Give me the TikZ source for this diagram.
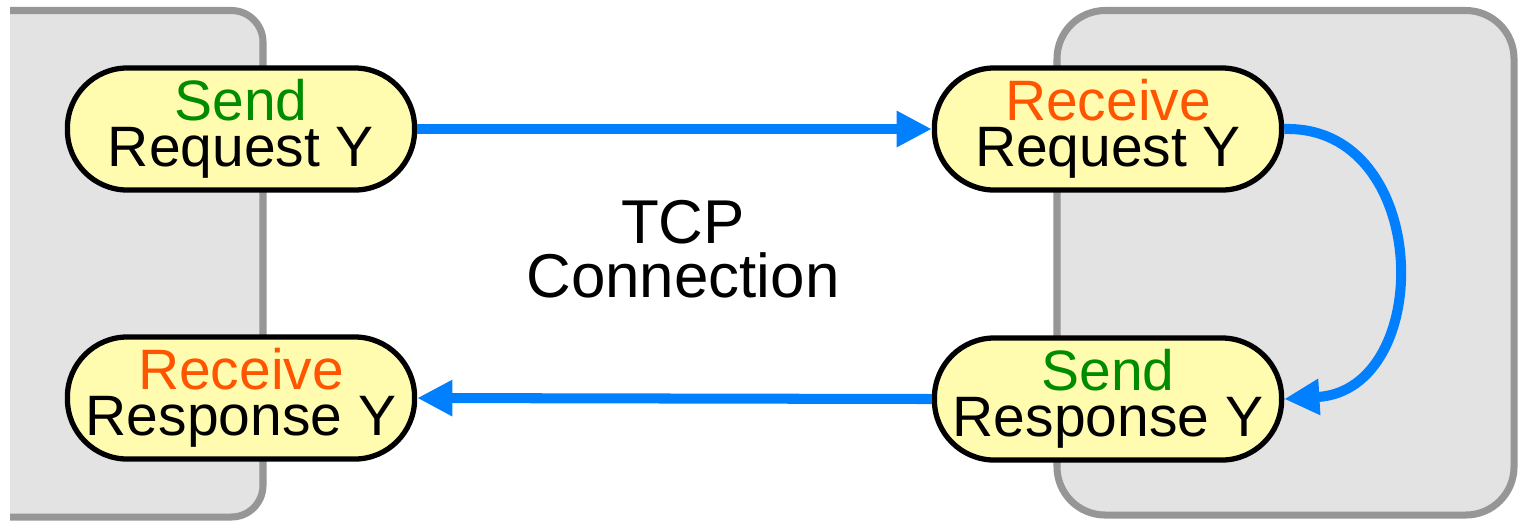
\documentclass[tikz,border=0pt]{standalone}
\usepackage{fontspec}
\setmainfont{Liberation Sans}
\usetikzlibrary{arrows.meta}
\definecolor{pillfill}{RGB}{255,251,175}
\definecolor{panelfill}{RGB}{227,227,227}
\definecolor{panelline}{RGB}{150,150,150}
\definecolor{flowblue}{RGB}{0,128,255}
\definecolor{sendgreen}{RGB}{0,140,0}
\definecolor{recvorange}{RGB}{255,85,0}
\begin{document}
\begin{tikzpicture}[x=0.01cm,y=-0.01cm,
  pill/.style={rectangle, rounded corners=0.6cm, draw=black, line width=1.5pt,
    fill=pillfill, minimum width=3.47cm, minimum height=1.22cm, inner sep=0pt,
    align=center, font=\fontsize{16.2}{13}\selectfont},
  panel/.style={draw=panelline, fill=panelfill, line width=2pt},
  flow/.style={draw=flowblue, line width=2.85pt,
    -{Triangle[length=10pt,width=9.7pt]}},
  caption/.style={align=center, font=\fontsize{17.6}{15.4}\selectfont}]
  % canvas
  \fill[white] (0,0) rectangle (1518,520);
  \useasboundingbox (0,0) rectangle (1518,520);
  % client host panel, cut at its left side
  \begin{scope}
    \clip (10,0) rectangle (400,520);
    \draw[panel, rounded corners=9pt] (-100,10.5) rectangle (263,517);
  \end{scope}
  % server host panel
  \draw[panel, rounded corners=13.7pt] (1057,10.5) rectangle (1514,515);
  % steps
  \node[pill] (sq) at (241,129) {\textcolor{sendgreen}{Send}\\Request Y};
  \node[pill] (rq) at (1108,129) {\textcolor{recvorange}{Receive}\\Request Y};
  \node[pill] (rr) at (241,398) {\textcolor{recvorange}{Receive}\\Response Y};
  \node[pill] (sr) at (1108,399) {\textcolor{sendgreen}{Send}\\Response Y};
  % connection label
  \node[caption] (tcp) at (683,249) {TCP\\Connection};
  % message flow
  \draw[flow] (sq.east) -- (rq.west);
  \draw[flow] (rq.east) .. controls (1432,125) and (1436,390) .. (sr.east);
  \draw[flow] (sr.west) -- (rr.east);
\end{tikzpicture}
\end{document}
